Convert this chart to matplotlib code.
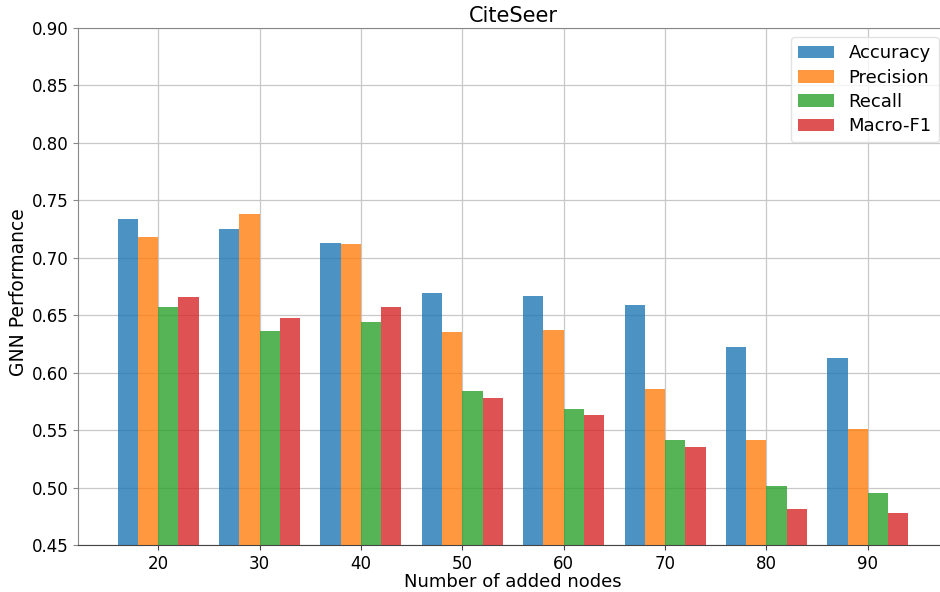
import matplotlib
matplotlib.use("Agg")
import matplotlib.pyplot as plt
import numpy as np

nodes = [20, 30, 40, 50, 60, 70, 80, 90]
accuracy = [0.734, 0.725, 0.713, 0.669, 0.667, 0.659, 0.622, 0.613]
precision = [0.718, 0.738, 0.712, 0.635, 0.637, 0.586, 0.541, 0.551]
recall = [0.657, 0.636, 0.644, 0.584, 0.568, 0.541, 0.501, 0.495]
macro_f1 = [0.666, 0.648, 0.657, 0.578, 0.563, 0.535, 0.481, 0.478]

series = [
    ("Accuracy", accuracy, "#1f77b4"),
    ("Precision", precision, "#ff7f0e"),
    ("Recall", recall, "#2ca02c"),
    ("Macro-F1", macro_f1, "#d62728"),
]

fig = plt.figure(figsize=(9.4, 5.92), dpi=100)
ax = fig.add_axes([78 / 940, 47 / 592, 870 / 940, 517 / 592])

x = np.arange(len(nodes))
width = 0.2
for k, (name, vals, color) in enumerate(series):
    offset = (k - 1.5) * width
    ax.bar(x + offset, vals, width, label=name, color=color, alpha=0.8,
           linewidth=0, zorder=3)

ax.set_xticks(x)
ax.set_xticklabels([str(n) for n in nodes], fontsize=12)
ax.set_ylim(0.45, 0.90)
ax.set_yticks(np.arange(0.45, 0.901, 0.05))
ax.set_yticklabels([f"{v:.2f}" for v in np.arange(0.45, 0.901, 0.05)], fontsize=12)
ax.grid(True, color="#c8c8c8", linewidth=0.9, zorder=0)
ax.set_axisbelow(True)

for side in ("left", "top", "right"):
    ax.spines[side].set_color("#888888")
ax.spines["bottom"].set_color("#444444")
ax.tick_params(axis="y", colors="#888888", labelcolor="black")
ax.tick_params(axis="x", colors="#444444", labelcolor="black")

ax.set_xlabel("Number of added nodes", fontsize=13, labelpad=0)
ax.set_ylabel("GNN Performance", fontsize=13.5)
ax.yaxis.set_label_coords(-0.0575, 0.49)
ax.set_title("CiteSeer", fontsize=15, pad=4)
leg = ax.legend(loc="upper right", fontsize=13, labelspacing=0.35)
leg.get_frame().set_edgecolor("#dddddd")

fig.savefig("out.png", dpi=100)
